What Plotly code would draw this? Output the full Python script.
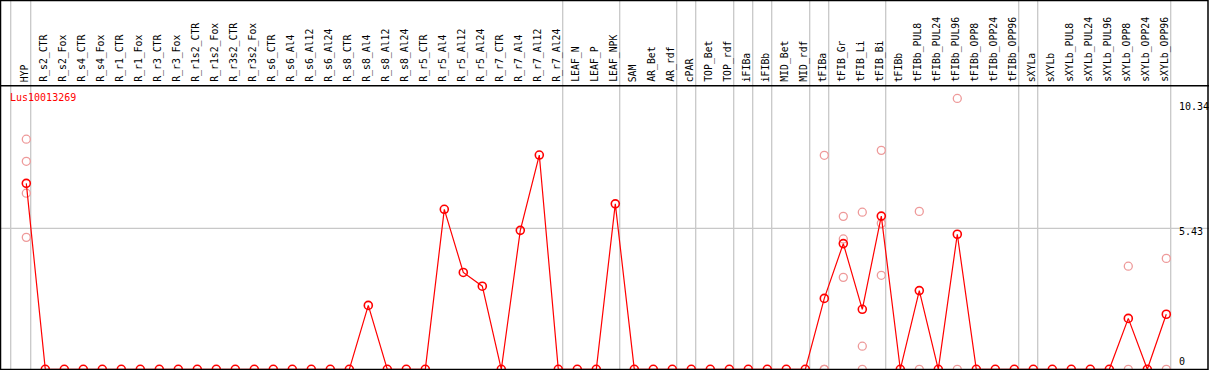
import plotly.graph_objects as go

gene = "Lus10013269"

samples = ["HYP",
           "R_s2_CTR", "R_s2_Fox", "R_s4_CTR", "R_s4_Fox", "R_r1_CTR", "R_r1_Fox",
           "R_r3_CTR", "R_r3_Fox", "R_r1s2_CTR", "R_r1s2_Fox", "R_r3s2_CTR", "R_r3s2_Fox",
           "R_s6_CTR", "R_s6_Al4", "R_s6_Al12", "R_s6_Al24",
           "R_s8_CTR", "R_s8_Al4", "R_s8_Al12", "R_s8_Al24",
           "R_r5_CTR", "R_r5_Al4", "R_r5_Al12", "R_r5_Al24",
           "R_r7_CTR", "R_r7_Al4", "R_r7_Al12", "R_r7_Al24",
           "LEAF_N", "LEAF_P", "LEAF_NPK", "SAM", "AR_Bet", "AR_rdf", "cPAR",
           "TOP_Bet", "TOP_rdf", "iFIBa", "iFIBb", "MID_Bet", "MID_rdf",
           "tFIBa", "tFIB_Gr", "tFIB_Li", "tFIB_Bi",
           "tFIBb", "tFIBb_PUL8", "tFIBb_PUL24", "tFIBb_PUL96", "tFIBb_OPP8", "tFIBb_OPP24", "tFIBb_OPP96",
           "sXYLa", "sXYLb", "sXYLb_PUL8", "sXYLb_PUL24", "sXYLb_PUL96", "sXYLb_OPP8", "sXYLb_OPP24", "sXYLb_OPP96"]

means = [7.16,
         0, 0, 0, 0, 0, 0, 0, 0, 0, 0, 0, 0,
         0, 0, 0, 0,
         0, 2.46, 0, 0,
         0, 6.16, 3.73, 3.20,
         0, 5.35, 8.25, 0,
         0, 0, 6.37, 0, 0, 0, 0,
         0, 0, 0, 0, 0, 0,
         2.73, 4.84, 2.31, 5.90,
         0, 3.03, 0, 5.20, 0, 0, 0,
         0, 0, 0, 0, 0, 1.96, 0, 2.12]

# replicate values (sample -> list)
replicates = {
    "HYP": [8.86, 8.01, 6.78, 5.08],
    "tFIBa": [8.24, 0, 0],
    "tFIB_Gr": [5.89, 5.02, 3.54],
    "tFIB_Li": [6.05, 0.89, 0],
    "tFIB_Bi": [8.43, 5.62, 3.62],
    "tFIBb_PUL8": [6.08, 0],
    "tFIBb_PUL96": [10.43, 0],
    "sXYLb_OPP8": [3.97, 0],
    "sXYLb_OPP96": [4.27, 0],
}

# group separators: after these samples
group_ends = ["HYP", "R_r7_Al24", "LEAF_NPK", "AR_rdf", "cPAR", "TOP_rdf", "iFIBa",
              "iFIBb", "MID_rdf", "tFIBa", "tFIB_Bi", "tFIBb_OPP96", "sXYLa", "sXYLb_OPP96"]

y_ticks = [10.34, 5.43, 0]
tick_labels = ["10.34", "5.43", "0"]

W, H = 1209, 370
x0_px, dx_px = 26.3, 19.0
zero_px, py_per = 369.3, 25.97

xr = [(0 - x0_px) / dx_px, (W - x0_px) / dx_px]
yr = [(zero_px - H) / py_per, zero_px / py_per]

idx = {s: i for i, s in enumerate(samples)}

fig = go.Figure()

rx, ry = [], []
for s, vals in replicates.items():
    for v in vals:
        rx.append(idx[s])
        ry.append(v)
fig.add_trace(go.Scatter(x=rx, y=ry, mode="markers",
                         marker=dict(symbol="circle-open", size=8, color="#EE9A9A",
                                     line=dict(width=1.3, color="#EE9A9A")),
                         hoverinfo="skip", showlegend=False, cliponaxis=False))
fig.add_trace(go.Scatter(x=list(range(len(samples))), y=means, mode="lines+markers",
                         line=dict(color="#FF0000", width=1.2),
                         marker=dict(symbol="circle-open", size=8, color="#FF0000",
                                     line=dict(width=1.6, color="#E00000")),
                         showlegend=False, cliponaxis=False))

shapes = []
# separators
shapes.append(dict(type="line", xref="paper", yref="paper", x0=10.7 / W, x1=10.7 / W, y0=0, y1=1,
                   line=dict(color="#C8C8C8", width=1.3), layer="below"))
for s in group_ends:
    xv = idx[s] + 4.4 / dx_px
    shapes.append(dict(type="line", xref="x", yref="paper", x0=xv, x1=xv, y0=0, y1=1,
                       line=dict(color="#C8C8C8", width=1.3), layer="below"))
# grid line at middle tick
shapes.append(dict(type="line", xref="paper", yref="y", x0=0, x1=1, y0=y_ticks[1], y1=y_ticks[1],
                   line=dict(color="#C8C8C8", width=1.3), layer="below"))
# header separator
hy = 1 - 85.7 / H
shapes.append(dict(type="line", xref="paper", yref="paper", x0=0, x1=1, y0=hy, y1=hy,
                   line=dict(color="black", width=1.5)))
# frame
shapes.append(dict(type="rect", xref="paper", yref="paper", x0=0.5 / W, x1=1 - 1 / W, y0=0.6 / H, y1=1 - 0.5 / H,
                   line=dict(color="black", width=1.5), fillcolor="rgba(0,0,0,0)"))

annotations = []
for i, s in enumerate(samples):
    annotations.append(dict(x=i - 2.0 / dx_px, y=1 - 83 / H, xref="x", yref="paper", text=s,
                            textangle=-90, showarrow=False, xanchor="center", yanchor="bottom",
                            font=dict(family="DejaVu Sans Mono", size=9.8, color="black"),
                            borderpad=0))
annotations.append(dict(x=9 / W, y=1 - 97 / H, xref="paper", yref="paper", text=gene,
                        showarrow=False, xanchor="left", yanchor="middle",
                        font=dict(family="DejaVu Sans Mono", size=10, color="#FF0000"), borderpad=0))
for yp, t in zip([106.7, 231.7, 361.7], tick_labels):
    annotations.append(dict(x=1178 / W, y=1 - yp / H, xref="paper", yref="paper", text=t,
                            showarrow=False, xanchor="left", yanchor="middle",
                            font=dict(family="DejaVu Sans Mono", size=10, color="black"), borderpad=0))

fig.update_layout(
    width=W, height=H, margin=dict(l=0, r=0, t=0, b=0),
    paper_bgcolor="white", plot_bgcolor="white",
    xaxis=dict(range=xr, visible=False, fixedrange=True),
    yaxis=dict(range=yr, visible=False, fixedrange=True),
    shapes=shapes, annotations=annotations,
)

fig.write_html("out.html", config={"displayModeBar": False},
               post_script="document.body.style.margin='0';document.body.style.padding='0';"
                           "document.body.style.overflow='hidden';")
